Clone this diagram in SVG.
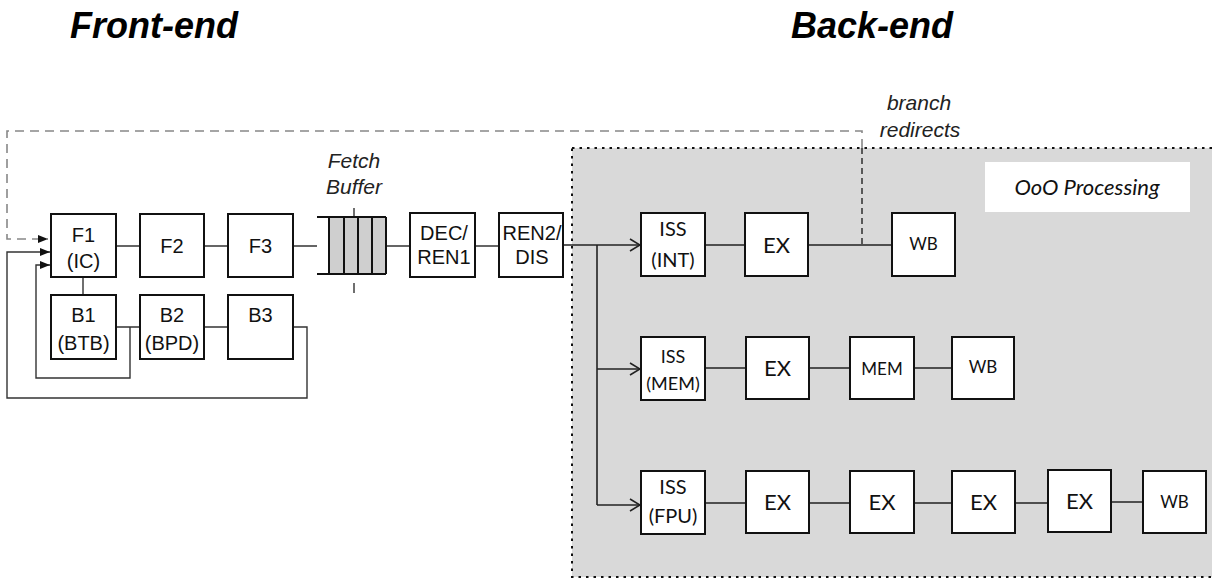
<svg xmlns="http://www.w3.org/2000/svg" width="1212" height="580" viewBox="0 0 1212 580">
<style>
.bx{fill:#fff;stroke:#111;stroke-width:2}
.ln{fill:none;stroke:#333;stroke-width:1.4}
.bln{fill:none;stroke:#222;stroke-width:1.6}
.fe{font-family:"Liberation Sans",Arial,sans-serif;font-size:20px;fill:#111;text-anchor:middle}
.be{font-family:Lato,"Open Sans",sans-serif;fill:#111;text-anchor:middle}
.it{font-family:"Liberation Sans",Arial,sans-serif;font-style:italic;font-size:21px;fill:#222;text-anchor:middle}
.title{font-family:"Liberation Sans",Arial,sans-serif;font-style:italic;font-weight:bold;font-size:36px;fill:#000}
</style>
<defs>
<marker id="fill" markerUnits="userSpaceOnUse" markerWidth="10" markerHeight="10" viewBox="0 0 10 10" refX="10" refY="5" orient="auto">
<path d="M0,1 L10,5 L0,9 Z" fill="#111"/>
</marker>
<marker id="open" markerUnits="userSpaceOnUse" markerWidth="12" markerHeight="14" viewBox="0 0 12 14" refX="11" refY="7" orient="auto">
<path d="M1,1 L11,7 L1,13" fill="none" stroke="#222" stroke-width="1.6"/>
</marker>
</defs>
<rect width="1212" height="580" fill="#fff"/>

<!-- titles -->
<text class="title" x="70" y="38">Front-end</text>
<text class="title" x="791" y="38">Back-end</text>

<!-- back-end region -->
<g id="ooo-region">
<rect x="572" y="148" width="660" height="429" fill="#d9d9d9" stroke="#111" stroke-width="2" stroke-dasharray="2.5,5"/>
<rect x="985" y="162" width="205" height="50" fill="#fff"/>
<text class="be" x="1087" y="195" font-size="22" font-style="italic">OoO Processing</text>
</g>

<!-- connectors -->
<g id="connectors">
<!-- branch redirect dashed -->
<path d="M862,148 L862,131 L7,131 L7,239 L48,239" fill="none" stroke="#888" stroke-width="1.6" stroke-dasharray="9,6" marker-end="url(#fill)"/>
<path d="M862,244 L862,148" fill="none" stroke="#222" stroke-width="1.4" stroke-dasharray="6,4"/>
<!-- front-end pipeline -->
<path class="ln" d="M116,246 H140 M204,246 H228 M293,246 H317 M386,246 H410 M475,246 H499"/>
<path class="ln" d="M83,277 V295 M116,327 H140 M204,327 H228"/>
<path class="ln" d="M130,327 V378 H36 V265 H50" marker-end="url(#fill)"/>
<path class="ln" d="M293,327 H307 V398 H7 V252 H50" marker-end="url(#fill)"/>
<!-- fetch buffer ticks -->
<path class="ln" d="M354,208 V217 M354,283 V293"/>
<!-- dispatch -->
<path class="bln" d="M563,245 H640" marker-end="url(#open)"/>
<path class="bln" d="M597,245 V505"/>
<path class="bln" d="M597,369 H640" marker-end="url(#open)"/>
<path class="bln" d="M597,505 H640" marker-end="url(#open)"/>
<!-- back-end rows -->
<path class="bln" d="M705,245 H745 M808,245 H892"/>
<path class="bln" d="M705,368 H745 M808,368 H850 M913,368 H951"/>
<path class="bln" d="M705,503 H745 M808,503 H850 M913,503 H951 M1014,503 H1048 M1111,502 H1142"/>
</g>

<!-- front-end nodes -->
<g id="F1"><rect class="bx" x="51" y="214" width="65" height="63"/><text class="fe" x="83.5" y="242">F1</text><text class="fe" x="83.5" y="268">(IC)</text></g>
<g id="F2"><rect class="bx" x="140" y="214" width="64" height="63"/><text class="fe" x="172" y="253">F2</text></g>
<g id="F3"><rect class="bx" x="228" y="214" width="65" height="63"/><text class="fe" x="260.5" y="253">F3</text></g>
<g id="B1"><rect class="bx" x="51" y="295" width="65" height="64"/><text class="fe" x="83.5" y="322">B1</text><text class="fe" x="83.5" y="350">(BTB)</text></g>
<g id="B2"><rect class="bx" x="140" y="295" width="64" height="64"/><text class="fe" x="172" y="322">B2</text><text class="fe" x="172" y="350">(BPD)</text></g>
<g id="B3"><rect class="bx" x="228" y="295" width="65" height="64"/><text class="fe" x="260.5" y="322">B3</text></g>

<g id="fetch-buffer">
<rect x="329" y="217" width="57" height="57" fill="#cfcfcf"/>
<path d="M317,217 H386 M317,274 H386 M329,217 V274 M344,217 V274 M358,217 V274 M372,217 V274 M386,217 V274" fill="none" stroke="#111" stroke-width="2"/>
<text class="it" x="354" y="168">Fetch</text>
<text class="it" x="354" y="194">Buffer</text>
</g>

<g id="DEC"><rect class="bx" x="410" y="213" width="65" height="64"/><text class="fe" x="444" y="240">DEC/</text><text class="fe" x="444" y="264">REN1</text></g>
<g id="REN2"><rect class="bx" x="499" y="213" width="64" height="64"/><text class="fe" x="532" y="240">REN2/</text><text class="fe" x="532" y="264">DIS</text></g>

<!-- branch redirects label -->
<text class="it" x="919" y="110">branch</text>
<text class="it" x="920" y="137">redirects</text>

<!-- back-end nodes: row 1 -->
<g id="ISS-INT"><rect class="bx" x="641" y="213" width="64" height="63"/><text class="be" x="673" y="236" font-size="20">ISS</text><text class="be" x="673" y="267" font-size="20">(INT)</text></g>
<g id="EX-INT"><rect class="bx" x="745" y="213" width="63" height="63"/><text class="be" x="776.5" y="253" font-size="22">EX</text></g>
<g id="WB-INT"><rect class="bx" x="892" y="213" width="63" height="63"/><text class="be" x="923.5" y="250" font-size="17">WB</text></g>

<!-- row 2 -->
<g id="ISS-MEM"><rect class="bx" x="641" y="337" width="64" height="63"/><text class="be" x="673" y="363" font-size="18">ISS</text><text class="be" x="673" y="390" font-size="18">(MEM)</text></g>
<g id="EX-MEM"><rect class="bx" x="746" y="337" width="63" height="62"/><text class="be" x="777.5" y="376" font-size="22">EX</text></g>
<g id="MEM"><rect class="bx" x="850" y="337" width="64" height="62"/><text class="be" x="882" y="375" font-size="17">MEM</text></g>
<g id="WB-MEM"><rect class="bx" x="952" y="337" width="62" height="62"/><text class="be" x="983" y="373" font-size="17">WB</text></g>

<!-- row 3 -->
<g id="ISS-FPU"><rect class="bx" x="641" y="471" width="64" height="63"/><text class="be" x="673" y="494" font-size="20">ISS</text><text class="be" x="673" y="523" font-size="20">(FPU)</text></g>
<g id="EX-FPU1"><rect class="bx" x="746" y="471" width="63" height="62"/><text class="be" x="777.5" y="510" font-size="22">EX</text></g>
<g id="EX-FPU2"><rect class="bx" x="850" y="471" width="64" height="62"/><text class="be" x="882" y="510" font-size="22">EX</text></g>
<g id="EX-FPU3"><rect class="bx" x="952" y="471" width="63" height="62"/><text class="be" x="983.5" y="510" font-size="22">EX</text></g>
<g id="EX-FPU4"><rect class="bx" x="1048" y="470" width="63" height="62"/><text class="be" x="1079.5" y="509" font-size="22">EX</text></g>
<g id="WB-FPU"><rect class="bx" x="1143" y="471" width="63" height="62"/><text class="be" x="1174.5" y="508" font-size="17">WB</text></g>
</svg>
